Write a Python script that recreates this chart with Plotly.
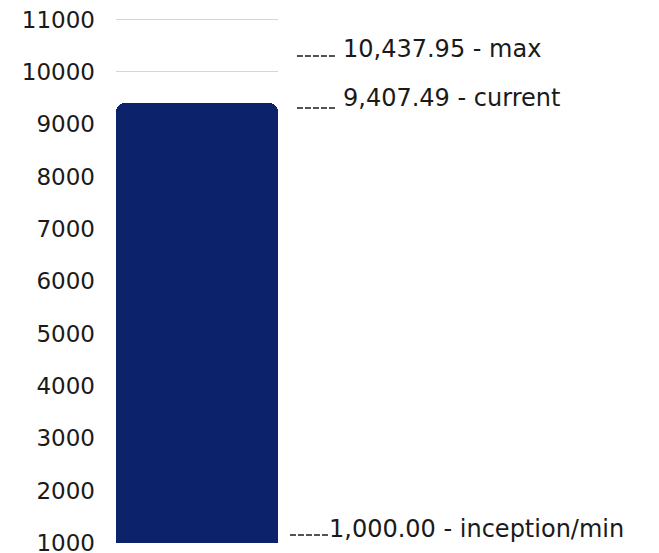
import plotly.graph_objects as go

categories = ["value"]
current_value = [9407.49]
marker_values = [10437.95, 9407.49, 1000.00]
marker_labels = ["max", "current", "inception/min"]
tick_values = [1000, 2000, 3000, 4000, 5000, 6000, 7000, 8000, 9000, 10000, 11000]

FONT = "DejaVu Sans"
Y_RANGE = [1000, 11030]

fig = go.Figure()
fig.add_trace(go.Bar(
    x=categories,
    y=current_value,
    marker=dict(color="#0c226b", cornerradius=9, line=dict(width=0)),
    hoverinfo="skip",
))

# label layout: (dash x0, dash x1 in paper, dash offset px downward, text xshift px, text yshift px)
layout_spec = [
    (1.117, 1.352, 7, 63, 0),
    (1.117, 1.352, 5, 63, 5),
    (1.074, 1.315, -8, 49, 14),
]

W, H = 651, 545
M = dict(l=108, r=381, t=10, b=10)
plot_h_px = H - M["t"] - M["b"]
units_per_px = (Y_RANGE[1] - Y_RANGE[0]) / plot_h_px

annotations = []
shapes = []
for val, lab, spec in zip(marker_values, marker_labels, layout_spec):
    x0, x1, dy, tx, ty = spec
    annotations.append(dict(
        x=1, xref="paper", y=val, yref="y",
        text=f"{val:,.2f} - {lab}",
        showarrow=False, xanchor="left", yanchor="middle",
        xshift=tx, yshift=ty,
        font=dict(family=FONT, size=24, color="#1a1a1a"),
    ))
    yl = val - dy * units_per_px
    shapes.append(dict(
        type="line", xref="paper", yref="y",
        x0=x0, x1=x1, y0=yl, y1=yl,
        line=dict(color="#1a1a1a", width=1.5, dash="6px,2px"),
    ))

fig.update_layout(
    width=W, height=H,
    margin=M,
    paper_bgcolor="white", plot_bgcolor="white",
    bargap=0,
    showlegend=False,
    xaxis=dict(visible=False),
    yaxis=dict(
        range=Y_RANGE,
        tickvals=tick_values,
        ticktext=[str(t) for t in tick_values],
        showgrid=True, gridcolor="#d6d6d6", gridwidth=1,
        zeroline=False, showline=False,
        ticks="", ticklabelstandoff=20,
        ticklabeloverflow="allow",
        automargin=False,
        tickfont=dict(family=FONT, size=23, color="#1a1a1a"),
    ),
    annotations=annotations,
    shapes=shapes,
)

fig.write_html("out.html")
